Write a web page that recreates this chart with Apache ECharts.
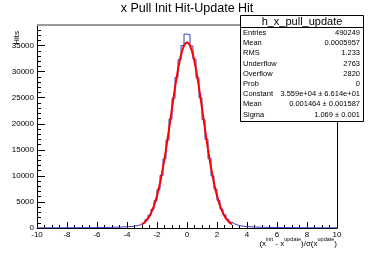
<!DOCTYPE html>
<html>
<head>
<meta charset="utf-8">
<script src="https://cdn.jsdelivr.net/npm/echarts@6/dist/echarts.min.js"></script>
<style>
html,body{margin:0;padding:0;background:#fff;}
#c{width:374px;height:253px;}
</style>
</head>
<body>
<div id="c"></div>
<script>
// ---- data ----
const histMin = -10, histMax = 10, binWidth = 0.2;
const histCounts = [
  27, 28, 29, 30, 31, 32, 34, 36, 38, 40,
  42, 45, 48, 51, 55, 59, 63, 68, 74, 80,
  88, 96, 106, 117, 130, 145, 162, 182, 206, 236,
  275, 325, 400, 530, 740, 1100, 1650, 2450, 3600, 5250,
  7400, 10100, 13250, 16900, 20900, 24900, 28900, 32300, 35000, 37200,
  37100, 34900, 32400, 28800, 25000, 20800, 17000, 13300, 10000, 7450,
  5300, 3650, 2500, 1680, 1120, 760, 540, 410, 330, 277,
  238, 208, 184, 163, 147, 132, 118, 107, 97, 89,
  81, 75, 69, 64, 60, 56, 52, 49, 46, 43,
  41, 39, 37, 35, 33, 32, 31, 30, 29, 28
];
const fitX = [-3.0,-2.9,-2.8,-2.7,-2.6,-2.5,-2.4,-2.3,-2.2,-2.1,-2.0,-1.9,-1.8,-1.7,-1.6,-1.5,-1.4,-1.3,-1.2,-1.1,-1.0,-0.9,-0.8,-0.7,-0.6,-0.5,-0.4,-0.3,-0.2,-0.1,0.0,0.1,0.2,0.3,0.4,0.5,0.6,0.7,0.8,0.9,1.0,1.1,1.2,1.3,1.4,1.5,1.6,1.7,1.8,1.9,2.0,2.1,2.2,2.3,2.4,2.5,2.6,2.7,2.8,2.9,3.0];
const fitY = [690,895,1150,1460,1845,2305,2855,3510,4275,5160,6175,7325,8610,10040,11600,13285,15085,16975,18940,20950,22965,24955,26885,28710,30390,31890,33175,34205,34965,35430,35590,35435,34975,34220,33190,31915,30415,28735,26910,24985,22990,20975,18965,17000,15105,13300,11615,10055,8625,7335,6185,5165,4280,3515,2860,2310,1845,1465,1150,895,690];
const xTicks = [-10,-8,-6,-4,-2,0,2,4,6,8,10];
const yMax = 38950;
const statsTitle = 'h_x_pull_update';
const statsNames = ['Entries','Mean','RMS','Underflow','Overflow','Prob','Constant','Mean','Sigma'];
const statsValues = ['490249','0.0005957','1.233','2763','2820','0','3.559e+04 \u00b1 6.614e+01','0.001464 \u00b1 0.001587','1.069 \u00b1 0.001'];

// ---- build ----
const histData = [[histMin, histCounts[0]]];
histCounts.forEach((c, i) => histData.push([histMin + binWidth * (i + 0.5), c]));
histData.push([histMax, histCounts[histCounts.length - 1]]);
const fitData = fitX.map((x, i) => [x, fitY[i]]);

const FONT = 'Liberation Sans, Arial, sans-serif';
const chart = echarts.init(document.getElementById('c'), null, {renderer: 'canvas'});

const gfx = [];
// top frame line
gfx.push({type: 'line', shape: {x1: 37, y1: 25, x2: 337, y2: 25}, style: {stroke: '#9a9a9a', lineWidth: 2}, z: 10});
// title
gfx.push({type: 'text', x: 187, y: 9, style: {text: 'x Pull Init Hit-Update Hit', font: '12.5px ' + FONT, fill: '#000', align: 'center', verticalAlign: 'middle'}, z: 20});
// y title
gfx.push({type: 'text', x: 17, y: 31, rotation: Math.PI / 2, style: {text: 'Hits', font: '8px ' + FONT, fill: '#000', align: 'right', verticalAlign: 'middle'}, z: 20});
// x title
gfx.push({type: 'text', x: 337, y: 242, style: {
  text: '{n|(x}{s|init}{n| - x}{s|update}{n|)/\u03c3(x}{s|update}{n|)}',
  align: 'right', verticalAlign: 'middle',
  rich: {
    n: {fontSize: 8, fontFamily: FONT, fill: '#000', verticalAlign: 'bottom', lineHeight: 11},
    s: {fontSize: 5.5, fontFamily: FONT, fill: '#000', verticalAlign: 'top', lineHeight: 11}
  }}, z: 20});
// stats box
gfx.push({type: 'rect', shape: {x: 240.5, y: 15.5, width: 123, height: 106}, style: {fill: '#fff', stroke: '#000', lineWidth: 1}, z: 30});
gfx.push({type: 'line', shape: {x1: 240.5, y1: 27.5, x2: 363.5, y2: 27.5}, style: {stroke: '#000', lineWidth: 1}, z: 31});
gfx.push({type: 'text', x: 302, y: 21.5, style: {text: statsTitle, font: '11px ' + FONT, fill: '#000', align: 'center', verticalAlign: 'middle'}, z: 31});
statsNames.forEach((n, i) => {
  const y = 33 + i * 10.2;
  gfx.push({type: 'text', x: 243, y: y, style: {text: n, font: '7.5px ' + FONT, fill: '#000', align: 'left', verticalAlign: 'middle'}, z: 31});
  gfx.push({type: 'text', x: 360, y: y, style: {text: statsValues[i], font: '7.5px ' + FONT, fill: '#000', align: 'right', verticalAlign: 'middle'}, z: 31});
});

chart.setOption({
  animation: false,
  backgroundColor: '#fff',
  grid: {left: 37, right: 37, top: 25, bottom: 25, containLabel: false},
  xAxis: {
    type: 'value', min: histMin, max: histMax, interval: 2,
    axisLine: {show: true, onZero: false, lineStyle: {color: '#000', width: 1}},
    axisTick: {show: true, inside: true, length: 6, lineStyle: {color: '#000'}},
    minorTick: {show: true, splitNumber: 4, length: 3, lineStyle: {color: '#000'}},
    splitLine: {show: false},
    axisLabel: {fontSize: 8, fontFamily: FONT, color: '#000', margin: 3,
      formatter: v => xTicks.includes(v) ? String(v) : ''}
  },
  yAxis: [{
    type: 'value', min: 0, max: yMax, interval: 5000, position: 'left',
    axisLine: {show: true, onZero: false, lineStyle: {color: '#000', width: 1}},
    axisTick: {show: true, inside: true, length: 8, lineStyle: {color: '#000'}},
    minorTick: {show: true, splitNumber: 5, length: 4, lineStyle: {color: '#000'}},
    splitLine: {show: false},
    axisLabel: {fontSize: 8, fontFamily: FONT, color: '#000', margin: 3, showMaxLabel: false,
      formatter: v => (v % 5000 === 0) ? String(v) : ''}
  }, {
    type: 'value', min: 0, max: yMax, position: 'right',
    axisLine: {show: true, onZero: false, lineStyle: {color: '#000', width: 1}},
    axisTick: {show: false}, axisLabel: {show: false}, splitLine: {show: false}
  }],
  series: [{
    type: 'line', data: histData, step: 'middle', symbol: 'none',
    lineStyle: {color: '#3b3bc4', width: 1}, z: 2
  }, {
    type: 'line', data: fitData, smooth: true, symbol: 'none',
    lineStyle: {color: '#ff0000', width: 2}, z: 3
  }],
  graphic: gfx
});
</script>
</body>
</html>
